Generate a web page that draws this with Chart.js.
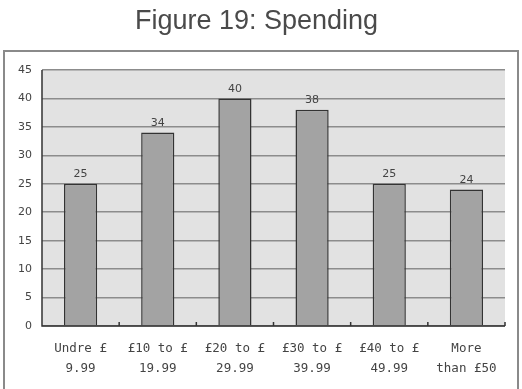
<!DOCTYPE html>
<html><head><meta charset="utf-8">
<script src="https://cdn.jsdelivr.net/npm/chart.js@4"></script>
<style>html,body{margin:0;padding:0;background:#fff;}#wrap{width:522px;height:389px;}</style>
</head><body><div id="wrap"><canvas id="c" width="522" height="389"></canvas></div>
<script>
const categories = [["Undre £","9.99"],["£10 to £","19.99"],["£20 to £","29.99"],["£30 to £","39.99"],["£40 to £","49.99"],["More","than £50"]];
const values = [25, 34, 40, 38, 25, 24];
const yTicks = [0,5,10,15,20,25,30,35,40,45];

const framePlugin = {
  id:'frame',
  beforeDraw(chart){
    const ctx = chart.ctx;
    ctx.save();
    ctx.strokeStyle = '#8a8a8a';
    ctx.lineWidth = 2;
    ctx.strokeRect(4, 51, 514, 345);
    const a = chart.chartArea;
    ctx.fillStyle = '#e2e2e2';
    ctx.fillRect(a.left, a.top, a.right - a.left, a.bottom - a.top);
    ctx.restore();
  },
  afterDatasetsDraw(chart){
    const ctx = chart.ctx;
    const meta = chart.getDatasetMeta(0);
    ctx.save();
    ctx.fillStyle = '#444';
    ctx.font = '11px "DejaVu Sans"';
    ctx.textAlign = 'center';
    ctx.textBaseline = 'bottom';
    meta.data.forEach((b,i)=>{ ctx.fillText(String(values[i]), b.x, b.y - 4); });
    const a = chart.chartArea;
    const xs = chart.scales.x;
    ctx.strokeStyle = '#333';
    ctx.lineWidth = 1.5;
    ctx.beginPath();
    ctx.moveTo(a.left, a.top); ctx.lineTo(a.left, a.bottom); ctx.lineTo(a.right, a.bottom);
    ctx.stroke();
    ctx.beginPath();
    for (let i=0;i<values.length-1;i++){
      const x = (xs.getPixelForTick(i)+xs.getPixelForTick(i+1))/2;
      ctx.moveTo(x, a.bottom); ctx.lineTo(x, a.bottom-4);
    }
    ctx.moveTo(a.right, a.bottom); ctx.lineTo(a.right, a.bottom-4);
    ctx.stroke();
    ctx.restore();
  }
};

new Chart(document.getElementById('c'), {
  type:'bar',
  data:{ labels: categories, datasets:[{ data: values, backgroundColor:'#a3a3a3', borderColor:'#333', borderWidth:1.5, barPercentage:0.43, categoryPercentage:1.0 }]},
  options:{
    responsive:false, animation:false, devicePixelRatio:1,
    layout:{ padding:{ left:8, right:17, top:0, bottom:11 } },
    plugins:{
      legend:{display:false}, tooltip:{enabled:false},
      title:{ display:true, text:'Figure 19: Spending', color:'#4a4a4a', font:{family:'Liberation Sans', size:27, weight:'normal', lineHeight:1.2}, padding:{top:5, bottom:32.6} }
    },
    scales:{
      y:{ min:0, max:45, afterBuildTicks(s){ s.ticks = yTicks.map(v=>({value:v})); },
          grid:{ color:'#8c8c8c', lineWidth:1.5, drawTicks:false }, border:{display:false},
          ticks:{ color:'#444', font:{family:'DejaVu Sans', size:11}, padding:10 } },
      x:{ grid:{ display:false }, border:{display:false},
          afterFit(s){ s.height = 52; },
          ticks:{ color:'#444', font:{family:'DejaVu Sans Mono', size:12.5, lineHeight:1.6}, padding:5, maxRotation:0, autoSkip:false } }
    }
  },
  plugins:[framePlugin]
});
</script></body></html>
